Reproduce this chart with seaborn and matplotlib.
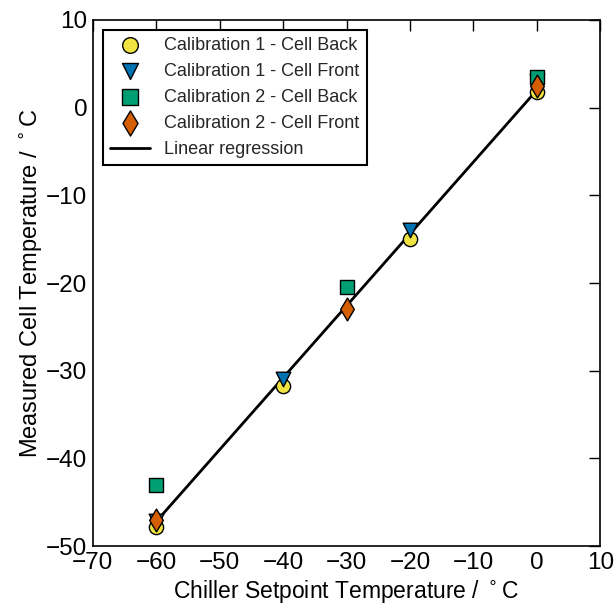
import numpy as np
import pandas as pd
import matplotlib
matplotlib.use("Agg")
import matplotlib.pyplot as plt
import seaborn as sns

# ---- data ----
cal1_back_x = [-60, -40, -20, 0]
cal1_back_y = [-47.8, -31.7, -15.0, 1.8]
cal1_front_x = [-60, -40, -20, 0]
cal1_front_y = [-47.2, -31.0, -14.0, 3.0]
cal2_back_x = [-60, -30, 0]
cal2_back_y = [-43.0, -20.5, 3.5]
cal2_front_x = [-60, -30, 0]
cal2_front_y = [-47.0, -23.0, 2.5]
reg_x = [-60, 0]
reg_y = [-47.2, 2.0]

sns.set_theme(style="white")
plt.rcParams["font.family"] = ["Liberation Sans", "DejaVu Sans"]
plt.rcParams["mathtext.fontset"] = "dejavusans"

series = [
    ("Calibration 1 - Cell Back", cal1_back_x, cal1_back_y, "o", "#F0E442", 105),
    ("Calibration 1 - Cell Front", cal1_front_x, cal1_front_y, "v", "#0072B2", 110),
    ("Calibration 2 - Cell Back", cal2_back_x, cal2_back_y, "s", "#009E73", 100),
    ("Calibration 2 - Cell Front", cal2_front_x, cal2_front_y, "d", "#D55E00", 135),
]

fig = plt.figure(figsize=(6.15, 6.06), dpi=100)
ax = fig.add_axes([0.151, 0.099, 0.825, 0.868])

for label, xs, ys, mk, col, sz in series:
    sns.scatterplot(x=xs, y=ys, ax=ax, marker=mk, color=col, s=sz,
                    edgecolor="black", linewidth=1, label=label, zorder=3)

sns.lineplot(x=reg_x, y=reg_y, ax=ax, color="black", lw=2,
             label="Linear regression", zorder=2)

ax.set_xlim(-70, 10)
ax.set_ylim(-50, 10)
ax.set_xticks(range(-70, 11, 10))
ax.set_yticks(range(-50, 11, 10))
ax.tick_params(direction="in", top=True, right=True, length=8, width=1,
               labelsize=17.5, colors="black", pad=4)
for sp in ax.spines.values():
    sp.set_color("black")
    sp.set_linewidth(1.2)

ax.set_xlabel("Chiller Setpoint Temperature / $^\\circ$C", fontsize=16.5,
              color="black", labelpad=3)
ax.set_ylabel("Measured Cell Temperature / $^\\circ$C", fontsize=17,
              color="black", labelpad=1)

leg = ax.legend(loc="upper left", fontsize=13, frameon=True, fancybox=False,
                edgecolor="black", framealpha=1, borderaxespad=0.55,
                handlelength=2.2, handletextpad=0.8, labelspacing=0.5,
                markerscale=1.1)
leg.get_frame().set_linewidth(1.5)

fig.savefig("out.png", dpi=100)
